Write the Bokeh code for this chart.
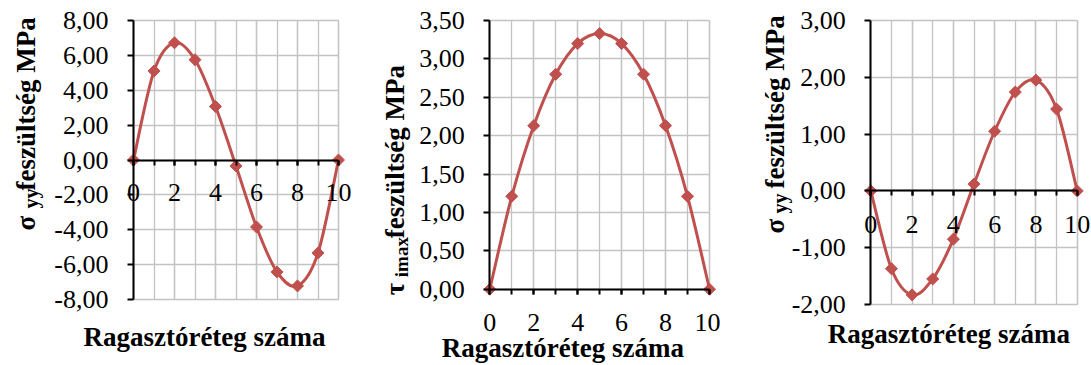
import math
from bokeh.plotting import figure
from bokeh.models import (Range1d, SingleIntervalTicker, CustomJSTickFormatter,
                          Label, ColumnDataSource)
from bokeh.layouts import row
from bokeh.embed import file_html
from bokeh.resources import INLINE

# ---- data ----
layer = [0, 1, 2, 3, 4, 5, 6, 7, 8, 9, 10]
sigma_yy_a = [0.0, 5.10, 6.72, 5.75, 3.07, -0.34, -3.84, -6.42, -7.22, -5.33, 0.0]
tau_imax = [0.0, 1.21, 2.13, 2.80, 3.20, 3.33, 3.20, 2.80, 2.13, 1.21, 0.0]
sigma_yy_b = [0.0, -1.37, -1.83, -1.55, -0.85, 0.12, 1.05, 1.74, 1.95, 1.44, 0.0]
x_title = "Ragasztóréteg száma"
y_main = "feszültség MPa"

RED = "#C0504D"
GRID = "#C3C3C3"
FONT = "Liberation Serif"
H = 364
ROT_DX = -12   # correction of rotated title placement
HOR_DY = 7     # correction of horizontal title placement


def smooth_source(xs, ys):
    # Excel-like smoothed line: cubic Bezier segments (Catmull-Rom, 1/6 tension)
    n = len(xs)
    d = dict(x0=[], y0=[], x1=[], y1=[], cx0=[], cy0=[], cx1=[], cy1=[])
    for i in range(n - 1):
        a = i - 1 if i > 0 else i
        b = i + 2 if i + 2 < n else i + 1
        d["x0"].append(xs[i]); d["y0"].append(ys[i])
        d["x1"].append(xs[i + 1]); d["y1"].append(ys[i + 1])
        d["cx0"].append(xs[i] + (xs[i + 1] - xs[a]) / 6)
        d["cy0"].append(ys[i] + (ys[i + 1] - ys[a]) / 6)
        d["cx1"].append(xs[i + 1] - (xs[b] - xs[i]) / 6)
        d["cy1"].append(ys[i + 1] - (ys[b] - ys[i]) / 6)
    return ColumnDataSource(d)


def make_panel(ys, yb, yint, W, area, x_standoff, sym, sub, ylab_pos, xlab_pos):
    # area: pixel box of the plotting area inside this canvas
    left, right, top, bottom = area
    x0, x1 = layer[0], layer[-1]
    ymin, ymax = yb
    kx = (right - left) / (x1 - x0)
    ky = (bottom - top) / (ymax - ymin)
    xr = Range1d(x0 - left / kx, x1 + (W - right) / kx)
    yr = Range1d(ymin - (H - bottom) / ky, ymax + top / ky)

    p = figure(width=W, height=H, output_backend="svg", toolbar_location=None,
               x_range=xr, y_range=yr, min_border=0, frame_align=False)
    p.outline_line_color = None
    p.background_fill_color = "white"
    p.border_fill_color = "white"

    # axes (drawn inside the canvas at fixed data locations)
    p.xaxis.ticker = SingleIntervalTicker(interval=2, num_minor_ticks=2)
    p.yaxis.ticker = SingleIntervalTicker(interval=yint, num_minor_ticks=0)
    p.yaxis.formatter = CustomJSTickFormatter(code="return tick.toFixed(2).replace('.', ',');")
    for ax in (p.xaxis[0], p.yaxis[0]):
        ax.axis_line_color = "black"
        ax.axis_line_width = 2
        ax.major_tick_line_color = "black"
        ax.major_tick_line_width = 2
        ax.major_tick_in = 0
        ax.major_label_text_font = FONT
        ax.major_label_text_font_size = "26px"
        ax.major_label_text_color = "black"
    p.xaxis.bounds = (x0, x1)
    p.yaxis.bounds = (ymin, ymax)
    p.xaxis.fixed_location = 0
    p.yaxis.fixed_location = x0
    p.xaxis.major_tick_out = 5
    p.xaxis.minor_tick_out = 5
    p.xaxis.minor_tick_in = 0
    p.xaxis.minor_tick_line_color = "black"
    p.xaxis.minor_tick_line_width = 2
    p.xaxis.major_label_standoff = x_standoff
    p.yaxis.major_tick_out = 6
    p.yaxis.minor_tick_line_color = None
    p.yaxis.major_label_standoff = 19

    # grid, limited to the plotting area
    p.xgrid.ticker = p.xaxis.ticker
    p.xgrid.bounds = (x0, x1)
    p.xgrid.cross_bounds = (ymin, ymax)
    p.xgrid.grid_line_color = GRID
    p.xgrid.grid_line_width = 1.3
    p.xgrid.minor_grid_line_color = GRID
    p.xgrid.minor_grid_line_width = 1.3
    p.ygrid.bounds = (ymin, ymax)
    p.ygrid.cross_bounds = (x0, x1)
    p.ygrid.grid_line_color = GRID
    p.ygrid.grid_line_width = 1.3

    # data
    src = smooth_source(layer, ys)
    p.bezier(x0="x0", y0="y0", x1="x1", y1="y1", cx0="cx0", cy0="cy0",
             cx1="cx1", cy1="cy1", source=src, line_color=RED, line_width=3)
    p.scatter(layer, ys, marker="square", angle=math.pi / 4, size=8.5,
              fill_color=RED, line_color=RED)

    # titles, anchored at the plotting area's bottom-left corner, offset in pixels
    (mx, my), (sx, sy, ssize), (tx, ty) = ylab_pos
    common = dict(x=x0, y=ymin, angle=math.pi / 2,
                  text_font=FONT, text_font_style="bold", text_color="black",
                  text_align="left", text_baseline="alphabetic")
    p.add_layout(Label(x_offset=mx + ROT_DX, y_offset=my, text=sym,
                       text_font_size="27px", **common))
    p.add_layout(Label(x_offset=sx + ROT_DX, y_offset=sy, text=sub,
                       text_font_size=ssize, **common))
    p.add_layout(Label(x_offset=tx + ROT_DX, y_offset=ty, text=y_main,
                       text_font_size="27px", **common))
    p.add_layout(Label(x=x0, y=ymin, x_offset=xlab_pos[0], y_offset=xlab_pos[1] + HOR_DY,
                       text=x_title, text_font=FONT, text_font_style="bold",
                       text_font_size="27px", text_color="black",
                       text_align="center", text_baseline="alphabetic"))
    return p


p1 = make_panel(sigma_yy_a, (-8, 8), 2, 360, (133, 338, 20, 299), 19,
                "σ", "yy", ((-96, 69), (-91, 91, "20px"), (-96, 109)), (71, -44))
p2 = make_panel(tau_imax, (0, 3.5), 0.5, 360, (129.3, 349, 20, 288.7), 20,
                "τ", "imax", ((-83, -6), (-76, 12, "19px"), (-83, 51)), (73, -66))
p3 = make_panel(sigma_yy_b, (-2, 3), 1, 370, (150.3, 356.7, 20, 304), 20,
                "σ", "yy", ((-84, 71), (-79, 91, "20px"), (-84, 116)), (78, -36))

layout = row(p1, p2, p3, spacing=0)
open("out.html", "w").write(file_html(layout, INLINE))
